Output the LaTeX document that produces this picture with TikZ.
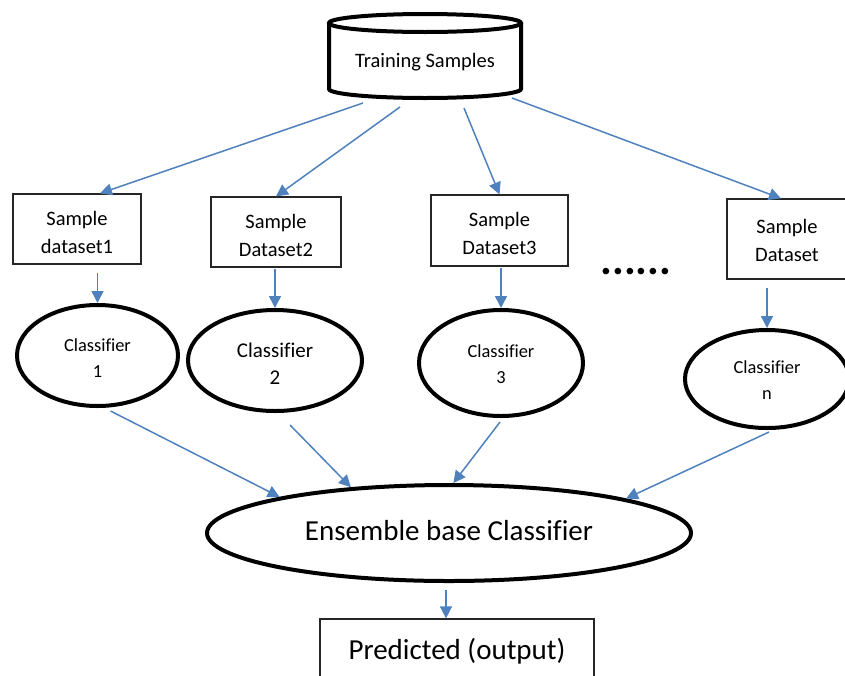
\documentclass[tikz,border=0pt]{standalone}
\usepackage{fontspec}
\setmainfont{Carlito}[Ligatures=NoCommon]
\usetikzlibrary{arrows.meta,shapes.geometric,calc}
\definecolor{flow}{HTML}{4F81BD}
\tikzset{
  box/.style={draw=black!85, line width=1.2pt, rectangle, inner sep=0pt},
  clf/.style={draw=black, line width=4pt, ellipse, inner sep=0pt},
  boxtxt/.style={align=center, font=\fontsize{20.5}{28}\selectfont},
  clftxt/.style={align=center, font=\fontsize{18.4}{26}\selectfont},
  bigtxt/.style={align=center, font=\fontsize{29}{34}\selectfont},
  arr/.style={draw=flow, line width=1.5pt, -{Triangle[length=12pt,width=12pt]}},
}
\begin{document}
\begin{tikzpicture}[x=1pt,y=-1pt]
\useasboundingbox (0,0) rectangle (845,675);

% data store drawn as a cylinder
\draw[line width=4pt] (425,23) ellipse [x radius=96pt, y radius=9pt];
\draw[line width=4pt] (329,23) -- (329,89) arc [start angle=180, end angle=360, x radius=96pt, y radius=9pt] -- (521,23);
\node[boxtxt] (ts) at (425,62) {Training Samples};
\coordinate (s1) at (363,103);
\coordinate (s2) at (400,107);
\coordinate (s3) at (464,108);
\coordinate (s4) at (512,98);

% bootstrap samples
\node[box, minimum width=128pt, minimum height=70pt,
      label={[boxtxt, yshift=-3pt]center:Sample\\dataset1}] (b1) at (77,229) {};
\node[box, minimum width=130pt, minimum height=70pt,
      label={[boxtxt, yshift=-3pt]center:Sample\\Dataset2}] (b2) at (276,232) {};
\node[box, minimum width=137pt, minimum height=71pt,
      label={[boxtxt, yshift=-3pt]center:Sample\\Dataset3}] (b3) at (499.5,230.5) {};
\node[box, minimum width=120pt, minimum height=80pt,
      label={[boxtxt, yshift=-1pt]center:Sample\\Dataset}] (b4) at (787,239) {};
\node[font=\bfseries\fontsize{44}{44}\selectfont] (dots) at (636,272) {......};

% base classifiers
\node[clf, minimum width=161pt, minimum height=101pt,
      label={[clftxt, yshift=-3pt]center:Classifier\\1}] (e1) at (97.5,355.5) {};
\node[clf, minimum width=174pt, minimum height=101pt,
      label={[align=center, font=\fontsize{21}{27}\selectfont, yshift=-3pt]center:Classifier\\2}] (e2) at (275,360.5) {};
\node[clf, minimum width=164pt, minimum height=106pt,
      label={[clftxt, yshift=-1pt]center:Classifier\\3}] (e3) at (501,363) {};
\node[clf, minimum width=164pt, minimum height=98pt,
      label={[clftxt, yshift=-1pt]center:Classifier\\n}] (e4) at (767,379) {};

% combiner and output
\node[clf, minimum width=484pt, minimum height=96pt,
      label={[bigtxt, yshift=2pt]center:Ensemble base Classifier}] (ens) at (449,533) {};
\node[box, minimum width=274pt, minimum height=58pt,
      label={[bigtxt, yshift=-3pt]center:Predicted (output)}] (pred) at (457,648) {};

% connectors
\draw[arr] (s1) -- ([xshift=23pt]b1.north);
\draw[arr] (s2) -- (b2.north);
\draw[arr] (s3) -- (b3.north);
\draw[arr] (s4) -- ([xshift=-6pt]b4.north);

\draw[arr] ($(e1.north |- b1.south)+(0,8)$) -- (e1.north);
\draw[arr] ($(e2.north |- b2.south)+(0,1)$) -- (e2.north);
\draw[arr] ($(e3.north |- b3.south)+(0,1)$) -- (e3.north);
\draw[arr] ($(e4.north |- b4.south)+(0,8)$) -- (e4.north);

\draw[arr] ($(e1.south)+(13,3)$) -- (ens.168);
\draw[arr] ($(e2.south)+(15,12)$) -- (ens.155.5);
\draw[arr] ($(e3.south)+(-1,4)$) -- (ens.85);
\draw[arr] ($(e4.south)+(2,2)$) -- (ens.11);

\coordinate (o1) at ($(ens.south)+(-3,7)$);
\draw[arr] (o1) -- (o1 |- pred.north);
\end{tikzpicture}
\end{document}
